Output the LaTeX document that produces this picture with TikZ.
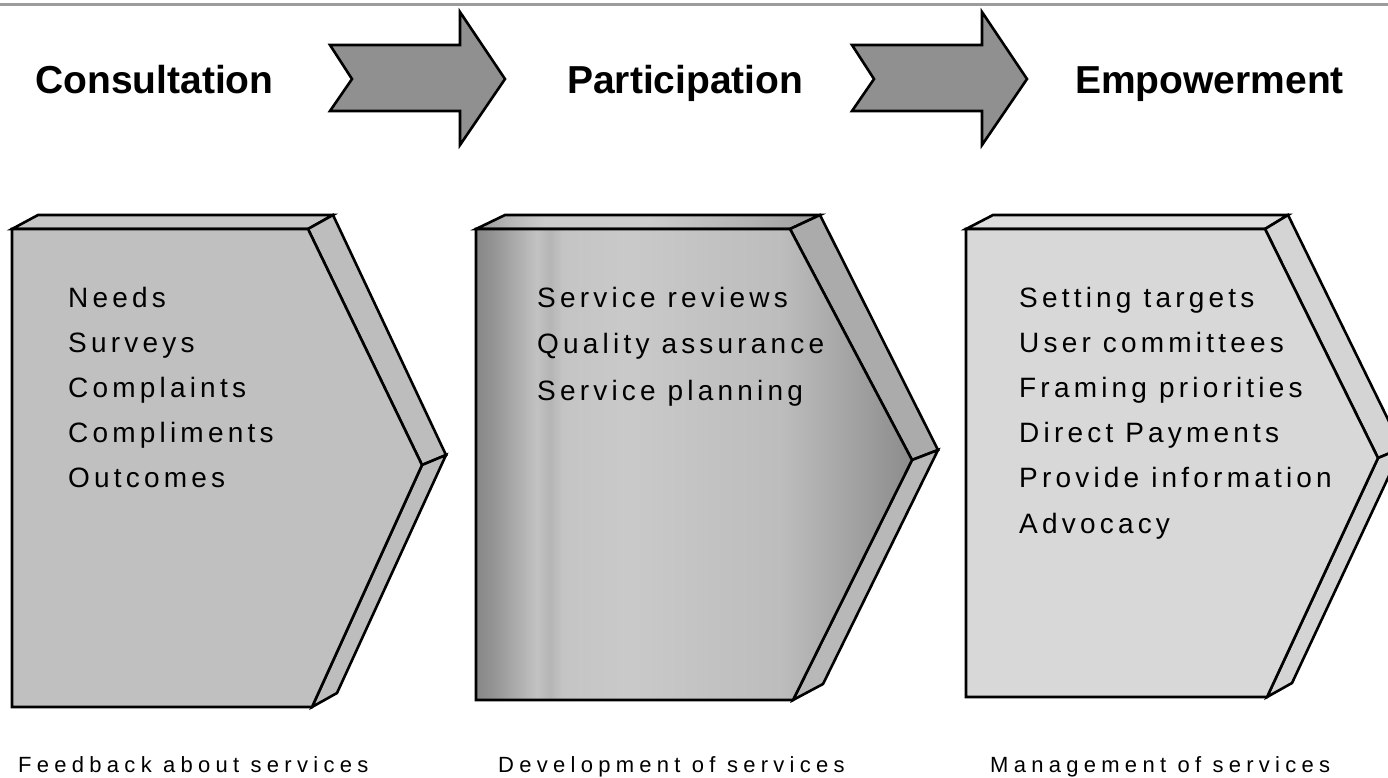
\documentclass[tikz,border=0pt]{standalone}
\usepackage{fontspec}
\setmainfont{Liberation Sans}
\newfontfamily\itemfont[LetterSpace=15]{Liberation Sans}
\newfontfamily\capfont[LetterSpace=24]{Liberation Sans}
\definecolor{arrowgray}{HTML}{909090}
\definecolor{boxa}{HTML}{C0C0C0}
\definecolor{boxatop}{HTML}{C6C6C6}
\definecolor{boxaside}{HTML}{BDBDBD}
\definecolor{boxc}{HTML}{D8D8D8}
\definecolor{boxctop}{HTML}{DCDCDC}
\definecolor{boxcside}{HTML}{D4D4D4}
\definecolor{boxbside}{HTML}{ABABAB}
\definecolor{rulegray}{HTML}{9C9C9C}
% stops mapped into the 25bp..75bp band that TikZ fits to the path
\pgfdeclarehorizontalshading{boxbshade}{100bp}{
  color(0bp)=(black!47);
  color(25bp)=(black!47);
  color(27bp)=(black!42);
  color(30bp)=(black!31);
  color(32bp)=(black!24);
  color(33.5bp)=(black!29);
  color(35bp)=(black!23);
  color(42.5bp)=(black!21);
  color(52.5bp)=(black!24);
  color(60bp)=(black!26);
  color(66.5bp)=(black!34);
  color(71bp)=(black!40);
  color(75bp)=(black!45);
  color(100bp)=(black!45)}
\pgfdeclarehorizontalshading{boxbtopshade}{100bp}{
  color(0bp)=(black!40);
  color(25bp)=(black!40);
  color(30bp)=(black!28);
  color(35bp)=(black!20);
  color(50bp)=(black!20);
  color(65bp)=(black!30);
  color(75bp)=(black!38);
  color(100bp)=(black!38)}
\begin{document}
\begin{tikzpicture}[x=1pt,y=-1pt,
  outline/.style={draw=black,line width=2.6pt,line join=miter},
  blockarrow/.style={outline,fill=arrowgray},
  title/.style={anchor=base west,inner sep=0pt,font=\fontsize{39}{39}\selectfont\bfseries},
  item/.style={anchor=base west,inner sep=0pt,font=\itemfont\fontsize{28}{28}\selectfont},
  caption/.style={anchor=base west,inner sep=0pt,font=\capfont\fontsize{22}{22}\selectfont}]
\useasboundingbox (0,0) rectangle (1388,777);
\fill[white] (0,0) rectangle (1388,777);
% top rule
\draw[rulegray,line width=3pt] (0,4) -- (1388,4);
% titles
\node[title] (consult) at (35,93) {Consultation};
\node[title] (partic) at (567,93) {Participation};
\node[title] (empow) at (1075,93) {Empowerment};
% block arrows
\foreach \s in {0,522}{
  \begin{scope}[xshift=\s pt]
  \draw[blockarrow] (330,45) -- (460,45) -- (460,12) -- (505,79) -- (460,145)
    -- (460,111) -- (330,111) -- (352,79) -- cycle;
  \end{scope}
}
% box 1
\draw[outline,fill=boxatop] (12,229) -- (38,215) -- (333,215) -- (308,229) -- cycle;
\draw[outline,fill=boxaside] (308,229) -- (333,215) -- (446,455) -- (422,465) -- cycle;
\draw[outline,fill=boxaside] (422,465) -- (446,455) -- (337,693) -- (312,707) -- cycle;
\draw[outline,fill=boxa] (12,229) -- (308,229) -- (422,465) -- (312,707) -- (12,707) -- cycle;
% box 2
\shade[shading=boxbtopshade] (476,229) -- (505,215) -- (820,215) -- (790,229) -- cycle;
\draw[outline] (476,229) -- (505,215) -- (820,215) -- (790,229) -- cycle;
\draw[outline,fill=boxbside] (790,229) -- (820,215) -- (938,450) -- (912,460) -- cycle;
\draw[outline,fill=boxbside!85!white] (912,460) -- (938,450) -- (823,684) -- (793,700) -- cycle;
\shade[shading=boxbshade] (476,229) -- (790,229) -- (912,460) -- (793,700) -- (476,700) -- cycle;
\draw[outline] (476,229) -- (790,229) -- (912,460) -- (793,700) -- (476,700) -- cycle;
% box 3
\draw[outline,fill=boxctop] (966,229) -- (993,215) -- (1288,215) -- (1265,229) -- cycle;
\draw[outline,fill=boxcside] (1265,229) -- (1288,215) -- (1402,448) -- (1378,458) -- cycle;
\draw[outline,fill=boxcside] (1378,458) -- (1402,448) -- (1292,683) -- (1267,697) -- cycle;
\draw[outline,fill=boxc] (966,229) -- (1265,229) -- (1378,458) -- (1267,697) -- (966,697) -- cycle;
% box texts
\foreach \t [count=\i] in {Needs,Surveys,Complaints,Compliments,Outcomes}
  \node[item] (consultitem\i) at (68,{307+45.2*(\i-1)}) {\t};
\foreach \t [count=\i] in {Service reviews,Quality assurance,Service planning}
  \node[item] (particitem\i) at (537,{307+46.5*(\i-1)}) {\t};
\foreach \t [count=\i] in {Setting targets,User committees,Framing priorities,Direct Payments,Provide information,Advocacy}
  \node[item] (empowitem\i) at (1019,{307+45.2*(\i-1)}) {\t};
% captions
\node[caption] (capA) at (18,772) {Feedback about services};
\node[caption] (capB) at (498,772) {Development of services};
\node[caption] (capC) at (990,772) {Management of services};
\end{tikzpicture}
\end{document}
